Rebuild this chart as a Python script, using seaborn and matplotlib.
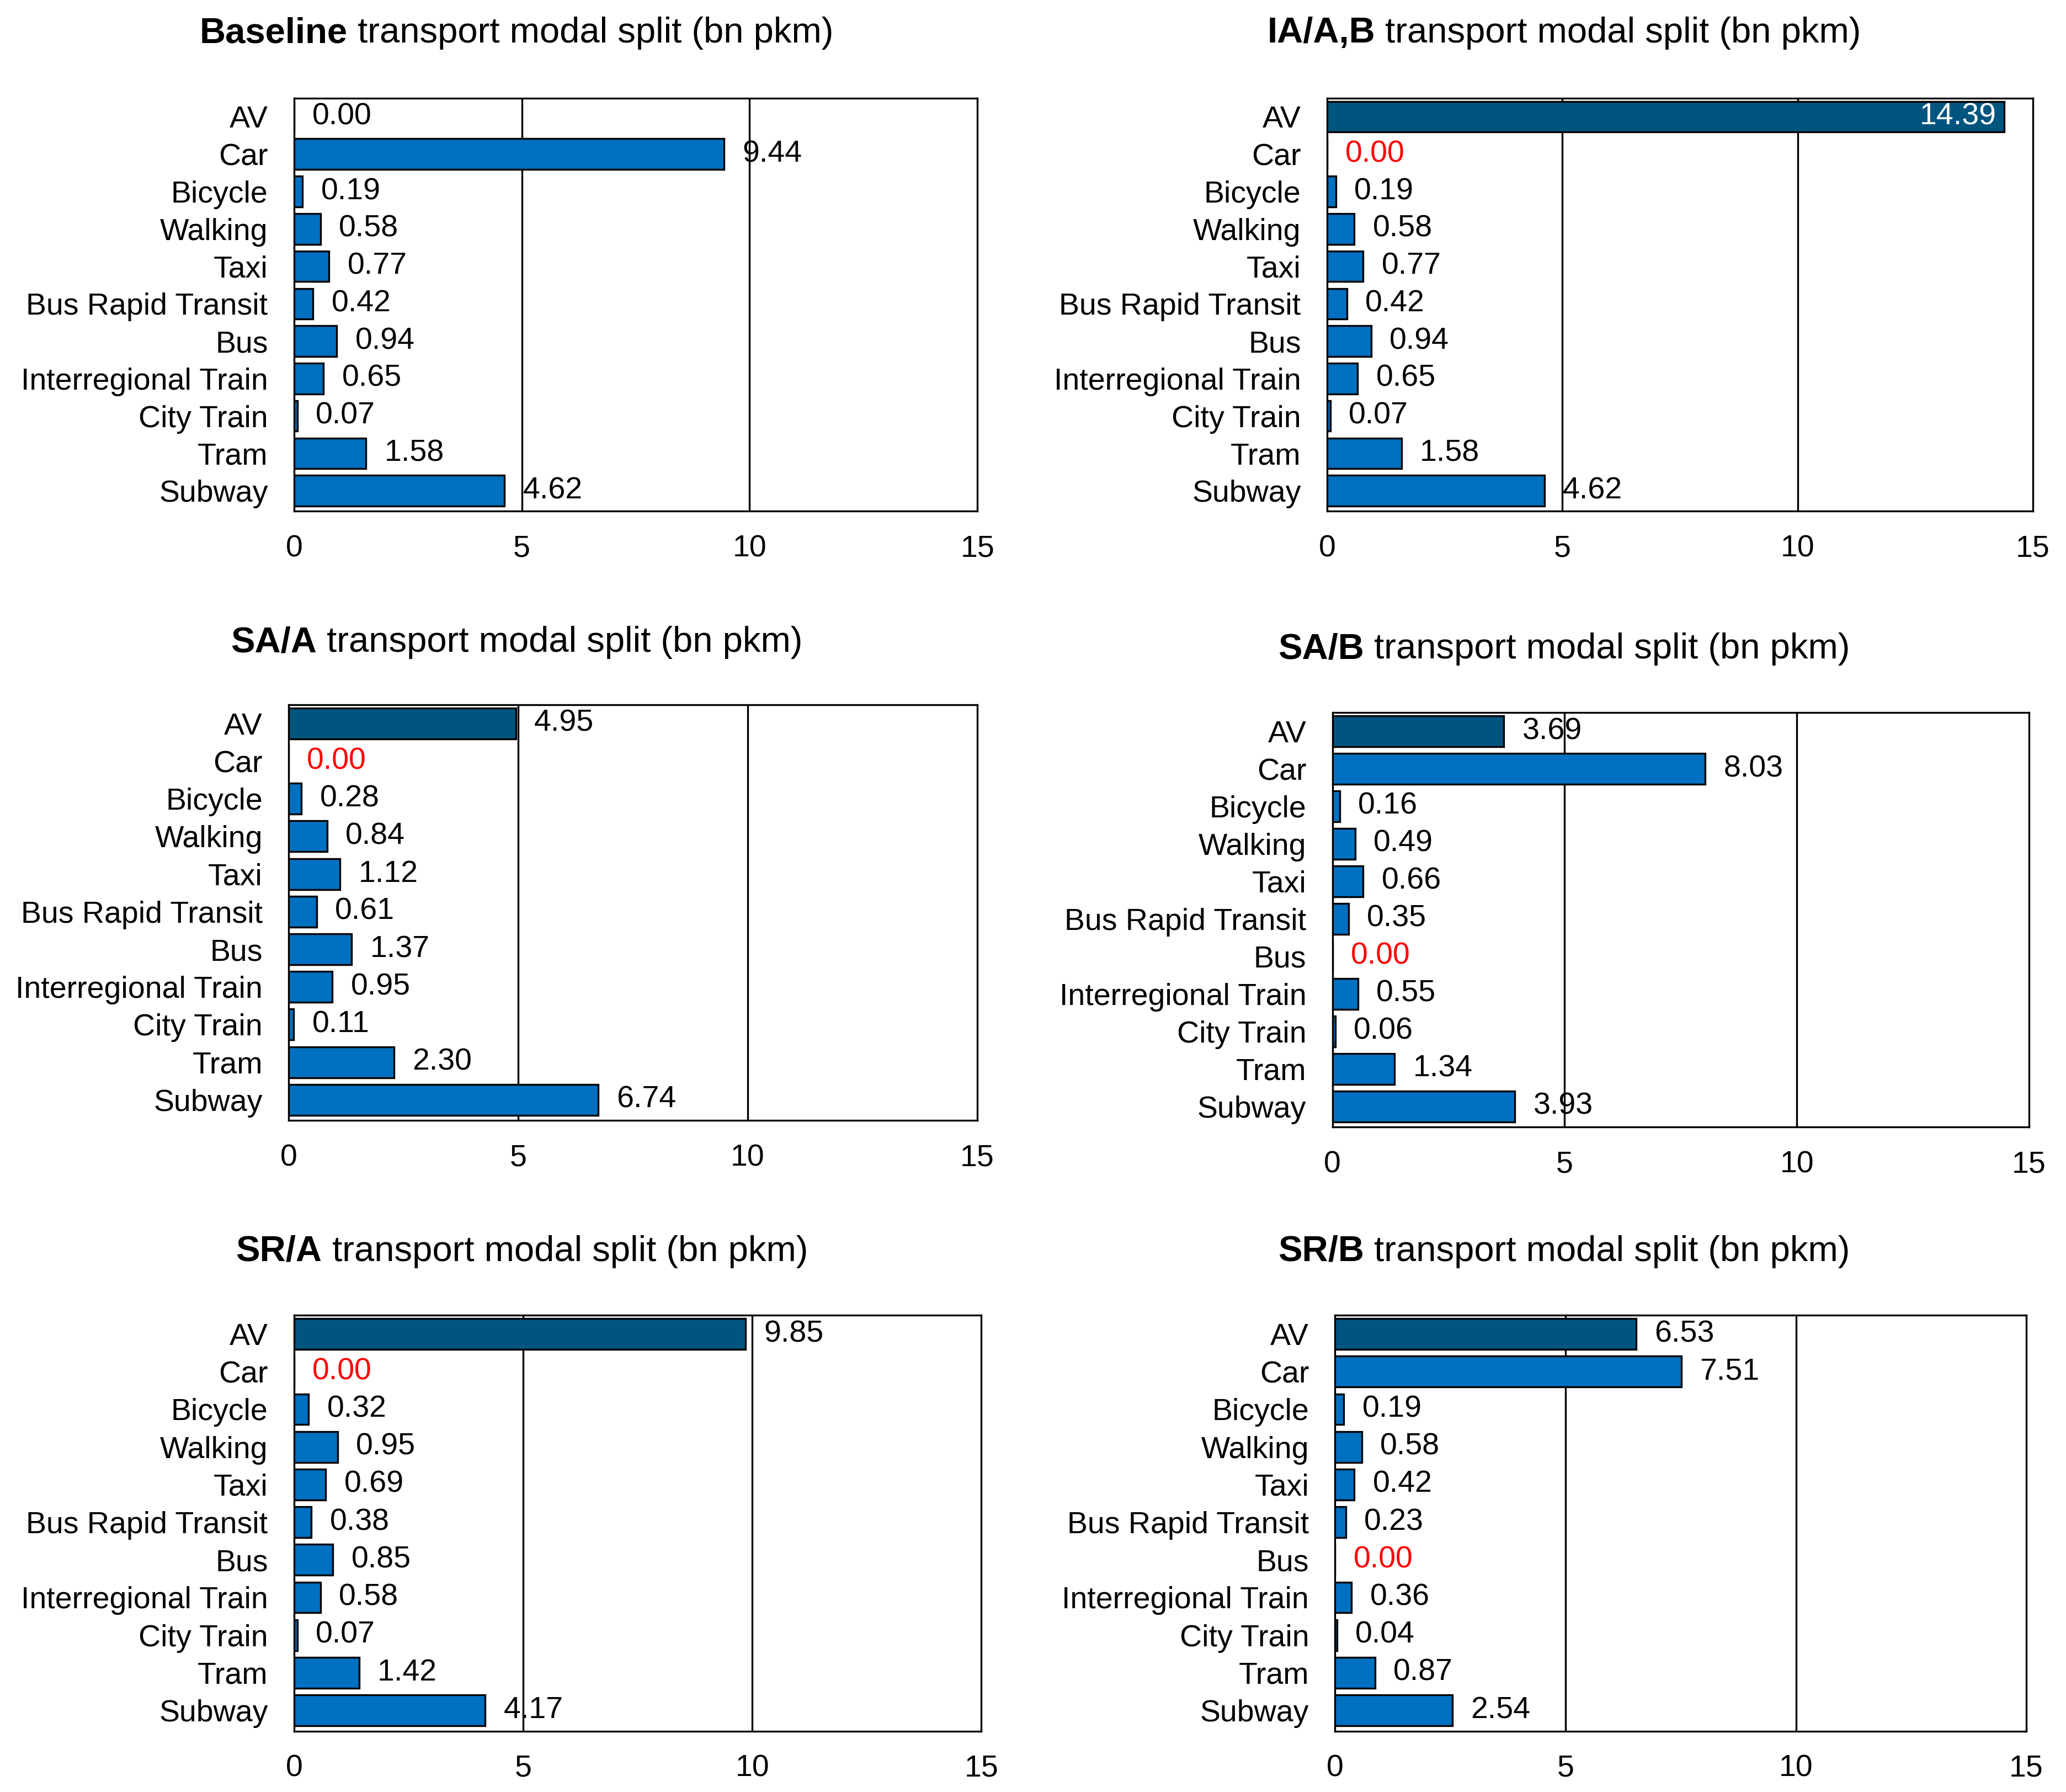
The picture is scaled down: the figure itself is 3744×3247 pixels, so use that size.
import numpy as np
import pandas as pd
import seaborn as sns
import matplotlib.pyplot as plt

sns.set_style("white")
plt.rcParams["font.family"] = ["Liberation Sans", "DejaVu Sans"]
plt.rcParams["text.color"] = "black"
plt.rcParams["xtick.color"] = "black"
plt.rcParams["ytick.color"] = "black"
plt.rcParams["axes.labelcolor"] = "black"

# data
modes = ["AV", "Car", "Bicycle", "Walking", "Taxi", "Bus Rapid Transit", "Bus",
         "Interregional Train", "City Train", "Tram", "Subway"]

baseline = [0.00, 9.44, 0.19, 0.58, 0.77, 0.42, 0.94, 0.65, 0.07, 1.58, 4.62]
ia_ab = [14.39, 0.00, 0.19, 0.58, 0.77, 0.42, 0.94, 0.65, 0.07, 1.58, 4.62]
sa_a = [4.95, 0.00, 0.28, 0.84, 1.12, 0.61, 1.37, 0.95, 0.11, 2.30, 6.74]
sa_b = [3.69, 8.03, 0.16, 0.49, 0.66, 0.35, 0.00, 0.55, 0.06, 1.34, 3.93]
sr_a = [9.85, 0.00, 0.32, 0.95, 0.69, 0.38, 0.85, 0.58, 0.07, 1.42, 4.17]
sr_b = [6.53, 7.51, 0.19, 0.58, 0.42, 0.23, 0.00, 0.36, 0.04, 0.87, 2.54]

scenarios = [("Baseline", baseline), ("IA/A,B", ia_ab), ("SA/A", sa_a),
             ("SA/B", sa_b), ("SR/A", sr_a), ("SR/B", sr_b)]

xticks = [0, 5, 10, 15]

bar_blue = "#0070C0"
av_blue = "#00557F"
palette = {m: (av_blue if m == "AV" else bar_blue) for m in modes}

# layout (figure fractions)
axes_pos = [
    [0.1423, 0.7147, 0.3308, 0.2306],
    [0.6423, 0.7147, 0.3417, 0.2306],
    [0.1397, 0.3747, 0.3333, 0.2321],
    [0.6449, 0.3710, 0.3372, 0.2314],
    [0.1423, 0.0340, 0.3327, 0.2321],
    [0.6462, 0.0340, 0.3346, 0.2321],
]
title_pos = [(0.250, 0.9815), (0.757, 0.9815), (0.250, 0.6415),
             (0.757, 0.6378), (0.2526, 0.3016), (0.757, 0.3016)]

fig = plt.figure(figsize=(37.44, 32.47), dpi=100)

lab_size = 40
titles = []

for i, (name, vals) in enumerate(scenarios):
    ax = fig.add_axes(axes_pos[i])
    df = pd.DataFrame({"mode": modes, "value": vals})
    sns.barplot(data=df, x="value", y="mode", hue="mode", palette=palette,
                saturation=1, legend=False, orient="h", width=0.82,
                edgecolor="black", linewidth=2.4, ax=ax, zorder=3)
    ax.set_xlim(0, 15)
    ax.set_ylim(len(modes) - 0.45, -0.5)
    ax.set_xticks(xticks)
    ax.set_xticklabels([str(t) for t in xticks], fontsize=lab_size)
    ax.tick_params(axis="y", labelsize=lab_size, pad=34, length=0)
    ax.tick_params(axis="x", pad=30, length=0)
    ax.set_xlabel("")
    ax.set_ylabel("")
    for xv in [5, 10]:
        ax.axvline(xv, color="black", lw=2.4, zorder=1)
    for s in ax.spines.values():
        s.set_color("black")
        s.set_linewidth(2.4)
        s.set_visible(True)

    for j, v in enumerate(vals):
        if v >= 14:
            ax.annotate(f"{v:.2f}", (v, j), xytext=(-10, 0), textcoords="offset points",
                        ha="right", va="center", fontsize=lab_size, color="white", zorder=5)
        else:
            col = "red" if (v == 0 and name != "Baseline") else "black"
            ax.annotate(f"{v:.2f}", (v, j), xytext=(24, 0), textcoords="offset points",
                        ha="left", va="center", fontsize=lab_size, color=col, zorder=5)

    xc, yc = title_pos[i]
    t1 = fig.text(0, yc, name, fontsize=47, fontweight="bold", va="center", ha="left")
    t2 = fig.text(0, yc, " transport modal split (bn pkm)", fontsize=47,
                  va="center", ha="left")
    titles.append((t1, t2, xc))

# centre the two-part titles
fig.canvas.draw()
r = fig.canvas.get_renderer()
W = fig.bbox.width
for t1, t2, xc in titles:
    w1 = t1.get_window_extent(r).width
    w2 = t2.get_window_extent(r).width
    x0 = xc - (w1 + w2) / 2 / W
    t1.set_x(x0)
    t2.set_x(x0 + w1 / W)

fig.savefig("out.png", dpi=100)
